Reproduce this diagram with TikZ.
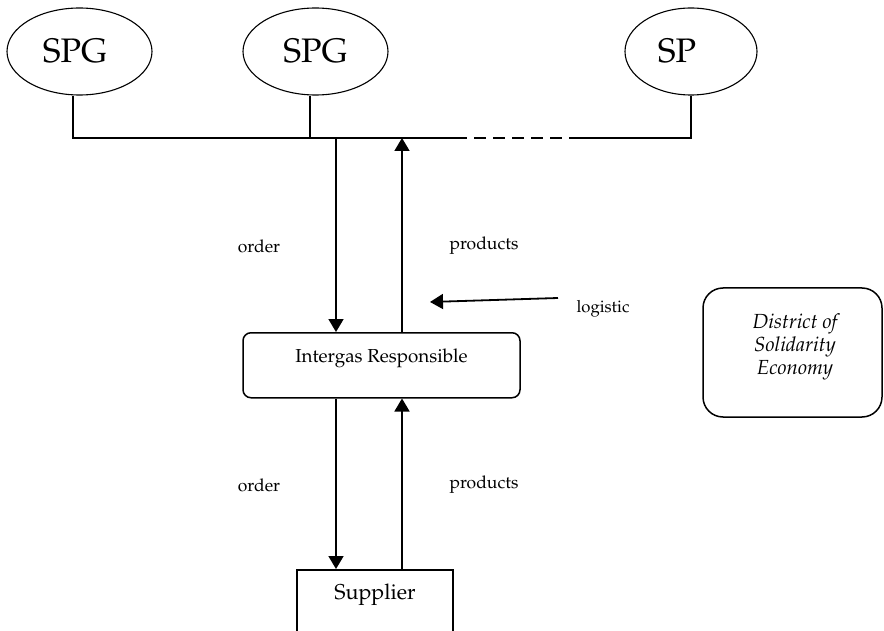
\documentclass[tikz,border=0pt]{standalone}
\usepackage[T1]{fontenc}
\usepackage{mathpazo}
\usetikzlibrary{shapes.geometric,arrows.meta}
\begin{document}
\begin{tikzpicture}[x=1pt,y=-1pt,
  grp/.style={draw,ellipse,line width=1.1pt,minimum height=87pt,inner sep=0pt,font=\fontsize{34}{36}\selectfont},
  conn/.style={line width=1.3pt},
  arr/.style={line width=1.8pt,-{Triangle[length=13pt,width=15pt]}},
  lbl/.style={font=\fontsize{17.5}{20}\selectfont,inner sep=0pt},
  box/.style={draw,line width=1.5pt,inner xsep=0pt,inner ysep=0pt,font=\fontsize{18.8}{22}\selectfont},
]
\useasboundingbox (0,0) rectangle (884,631);
% top groups
\node[grp,minimum width=145pt] (e1) at (79.5,51.5) {\hspace*{-9pt}SPG};
\node[grp,minimum width=145pt] (e2) at (315.5,51.5) {SPG};
\node[grp,minimum width=132pt] (e3) at (691,51.5) {\hspace*{-28pt}SP};
% bus
\coordinate (s1) at (73,138);
\coordinate (s2) at (310,138);
\coordinate (s3) at (691,138);
\coordinate (d1) at (455,138);
\coordinate (d2) at (572,138);
\draw[conn] (s1 |- e1.south) -- (s1) -- (d1);
\draw[conn] (s2 |- e2.south) -- (s2);
\draw[conn,dash pattern=on 12pt off 7pt] (d1) -- (d2);
\draw[conn] (d2) -- (s3) -- (e3.south);
% intergas
\node[box,rounded corners=8pt,minimum width=277pt,anchor=north,text height=30pt,text depth=35pt] (ir) at (381.5,332) {Intergas Responsible};
% supplier
\node[box,minimum width=156pt,anchor=north,text height=30pt,text depth=45pt,font=\fontsize{21.5}{24}\selectfont] (sup) at (375,569) {Supplier};
% district
\node[box,rounded corners=20pt,minimum width=179pt,minimum height=129pt] (dse) at (792.5,352.5) {};
\node[align=center,inner sep=0pt,font=\fontsize{20.4}{23}\selectfont\itshape] (dsetext) at (795,347) {District of\\Solidarity\\Economy};
% arrows
\coordinate (h1) at (336,138);
\coordinate (h2) at (402,138);
\draw[arr] (h1) -- (h1 |- ir.north);
\draw[arr] (h2 |- ir.north) -- (h2);
\draw[arr] (ir.south -| h1) -- (sup.north -| h1);
\draw[arr] (sup.north -| h2) -- (ir.south -| h2);
\coordinate (lg1) at (558,298);
\coordinate (lg2) at (430,302);
\draw[arr] (lg1) -- (lg2);
% labels
\node[lbl] (o1) at (259,246) {order};
\node[lbl] (p1) at (484,246) {products};
\node[lbl,font=\fontsize{16.7}{19}\selectfont] (lg) at (603,309) {logistic};
\node[lbl] (o2) at (259,485) {order};
\node[lbl] (p2) at (484,485) {products};
\end{tikzpicture}
\end{document}
